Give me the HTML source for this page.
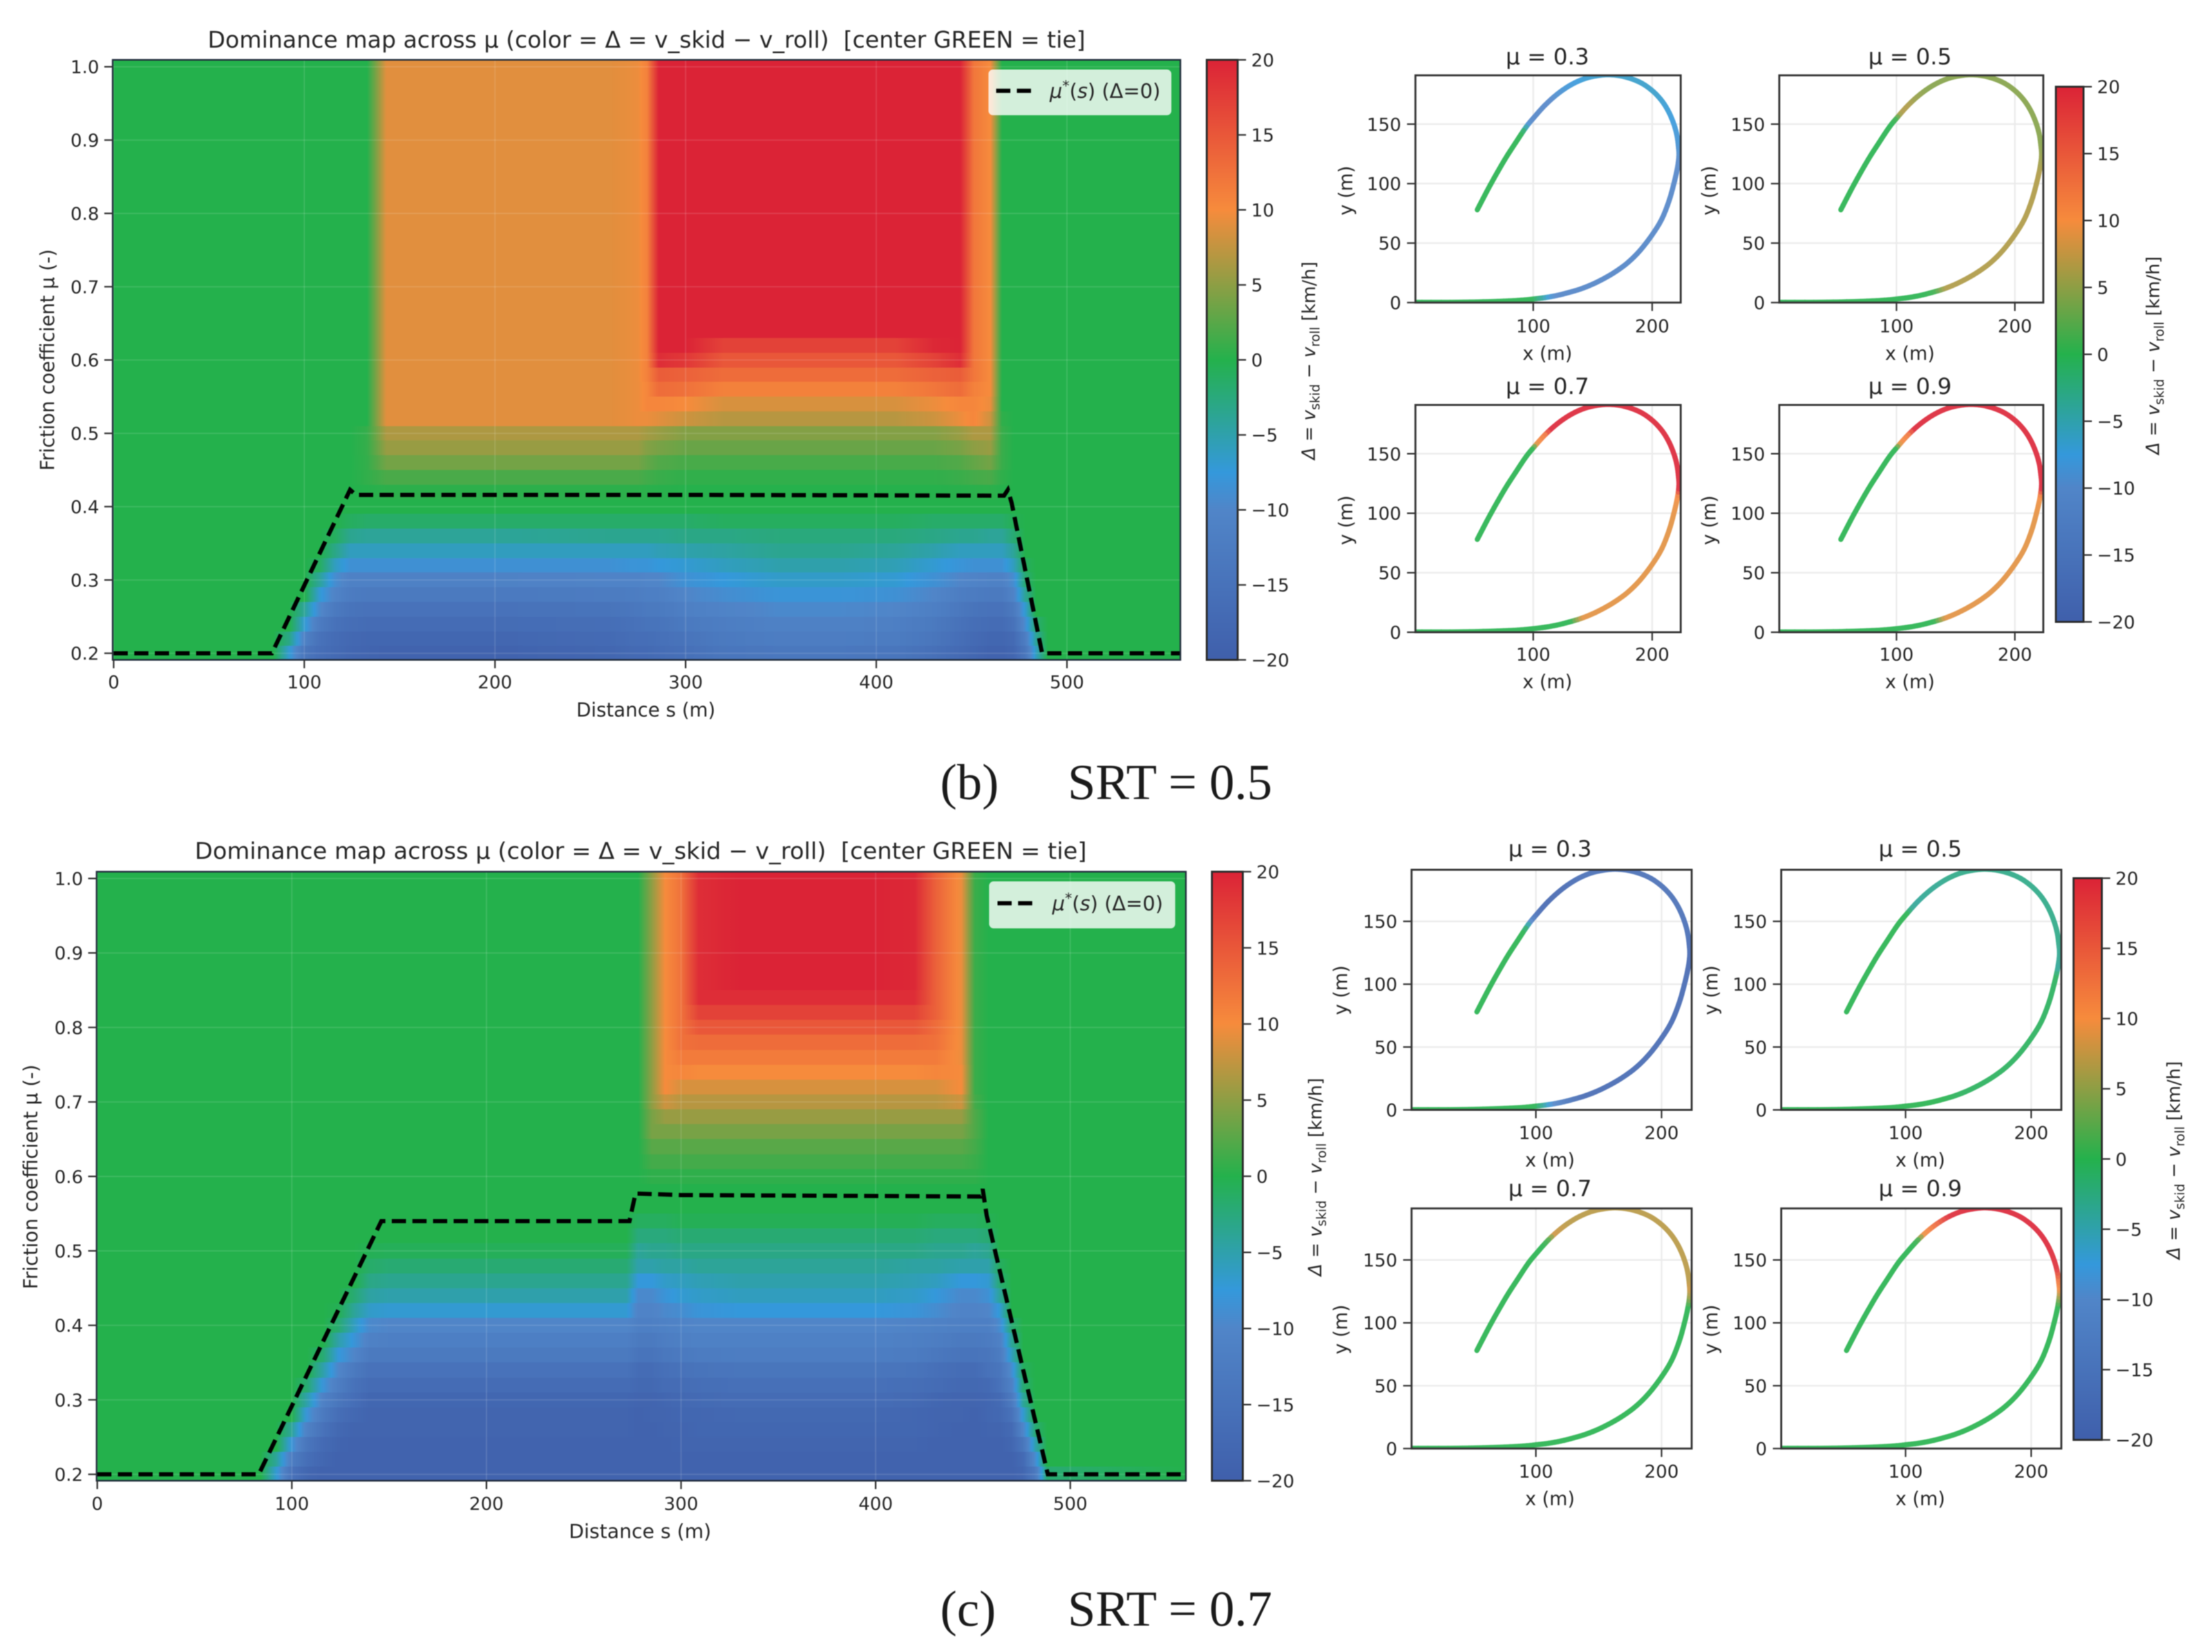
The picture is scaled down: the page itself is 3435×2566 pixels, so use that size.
<!DOCTYPE html>
<html lang="en">
<head>
<meta charset="utf-8">
<title>Dominance maps across friction coefficient</title>
<style>
html,body{margin:0;padding:0;background:#fff;}
svg{display:block;filter:blur(0.9px);}
text{font-family:"DejaVu Sans","Liberation Sans",sans-serif;fill:#262626;}
.cap{font-family:"Liberation Serif",serif;font-size:78px;fill:#1a1a1a;}
</style>
</head>
<body>
<svg id="fig" xmlns="http://www.w3.org/2000/svg" width="3435" height="2566" viewBox="0 0 3435 2566">
<rect x="0" y="0" width="3435" height="2566" fill="#ffffff"/>
<defs id="defs"></defs>
<text class="cap" x="1460" y="1241">(b)</text>
<text class="cap" x="1658" y="1241">SRT = 0.5</text>
<text class="cap" x="1460" y="2525">(c)</text>
<text class="cap" x="1658" y="2525">SRT = 0.7</text>
</svg>
<script>
/* ---------- colour scale ---------- */
const cmapDelta=[-20,-10,-7.5,0,10,20];
const cmapColors=[[63,95,171],[80,133,200],[52,152,219],[36,177,76],[246,139,60],[219,35,54]];

/* ---------- tick labels ---------- */
const sTicks=[0,100,200,300,400,500];
const muTicks=[0.2,0.3,0.4,0.5,0.6,0.7,0.8,0.9,1.0];
const cbarTicks=[-20,-15,-10,-5,0,5,10,15,20];
const trackXTicks=[100,200];
const trackYTicks=[0,50,100,150];
const panelMu=[0.3,0.5,0.7,0.9];

/* ---------- heatmap: friction levels (rows) ---------- */
const muLevels=[0.20,0.22,0.24,0.26,0.28,0.30,0.32,0.34,0.36,0.38,0.40,0.42,0.44,0.46,0.48,0.50,0.52,0.54,0.56,0.58,0.60,0.62,0.64,0.66,0.68,0.70,0.72,0.74,0.76,0.78,0.80,0.82,0.84,0.86,0.88,0.90,0.92,0.94,0.96,0.98,1.00];

/* ---------- SRT = 0.5 heatmap ---------- */
const sColsB=[0,84,92,100,108,116,124,133,143,200,260,275,280,286,300,320,350,380,410,430,444,451,460,466,472,478,484,490,560];
const rowTopB=[0,0,0,0,0,0,0,0,9,9,9,9.5,11,20,20,20,20,20,20,20,20,12,10,0,0,0,0,0,0];
const deltaB=[
[0,0,-7,-14,-16,-17,-18,-18.5,-19,-19,-18,-17,-17,-16.5,-15.5,-14,-13.5,-13.5,-14,-15.5,-17,-18,-19,-19,-18,-14,-6,0,0],
[0,0,-3,-11,-15,-16.5,-17.5,-18,-18,-18,-17,-16,-16,-15.5,-14.5,-13,-12,-12,-12.5,-14,-16,-17,-18,-18,-17,-12,-4,0,0],
[0,0,0,-7,-12.5,-15,-16,-16.5,-16.5,-16.5,-16,-15,-14.5,-14.5,-13,-12,-11,-11,-11.5,-13,-15,-16,-16.5,-16.5,-15,-9,-2,0,0],
[0,0,0,-4,-9.5,-13,-14.5,-15,-15,-15,-14.5,-13.5,-13,-13,-11.5,-10.5,-9.5,-9.5,-10,-11.5,-13.5,-14.5,-15,-15,-13,-7,0,0,0],
[0,0,0,0,-7,-10.5,-12.5,-13,-13,-13,-12.5,-12,-11.5,-11.5,-10,-9,-8,-8,-8.5,-10,-12,-12.5,-13,-13,-10.5,-4,0,0,0],
[0,0,0,0,-4,-9,-11,-11,-11,-11,-10.5,-10.5,-10,-10,-8.5,-7.5,-6.5,-6.5,-7,-8.5,-10,-10.5,-11,-11,-9,-2,0,0,0],
[0,0,0,0,-1,-6,-8.5,-8.5,-8.5,-8.5,-8.5,-8,-8,-7.5,-7,-6,-5,-5,-5.5,-7,-8,-8.5,-8.5,-8.5,-6,-1,0,0,0],
[0,0,0,0,0,-3,-6,-6,-6,-6,-6,-6,-6,-5.5,-5,-4.5,-3.5,-3.5,-4,-5,-6,-6,-6,-6,-4,0,0,0,0],
[0,0,0,0,0,-1,-3.5,-4,-4,-4,-3.5,-3.5,-3.5,-3.5,-3,-3,-2.5,-2.5,-2.5,-3,-3.5,-3.5,-4,-4,-2,0,0,0,0],
[0,0,0,0,0,0,-1,-1.5,-1.5,-1.5,-1.5,-1.5,-1.5,-1.5,-1.5,-1,-1,-1,-1,-1.5,-1.5,-1.5,-1.5,-1.5,-0.5,0,0,0,0],
[0,0,0,0,0,0,0,0,0,0,0,0,0,0,0,0,0,0,0,0,0,0,0,0,0,0,0,0,0],
[0,0,0,0,0,0,0,0.1,0.4,0.4,0.4,0.4,0.3,0.2,0.1,0.1,0.1,0.1,0.1,0.1,0.2,0.3,0.4,0.1,0,0,0,0,0],
[0,0,0,0,0,0,0,0.6,1.8,1.8,1.8,1.8,1.4,1,0.6,0.6,0.6,0.6,0.6,0.6,1,1.5,1.8,0.5,0,0,0,0,0],
[0,0,0,0,0,0,0,0.7,3.8,3.8,3.8,3.8,3,2.2,1.7,1.7,1.7,1.7,1.7,1.7,2.2,3,3.8,1,0,0,0,0,0],
[0,0,0,0,0,0,0,0.8,5.5,5.5,5.5,5.5,4.5,4,3.3,3.3,3.3,3.3,3.3,3.3,4,5,5.5,1,0,0,0,0,0],
[0,0,0,0,0,0,0,0.8,6.5,6.5,6.5,6.5,6,5.5,4.5,4.5,4.5,4.5,4.5,4.5,5.5,6.5,6.5,1,0,0,0,0,0],
[0,0,0,0,0,0,0,0,9,9,9,9.5,9.5,9,8,7,7,7,7,8,9.5,10.5,8,0.5,0,0,0,0,0],
[0,0,0,0,0,0,0,0,9,9,9,9.5,10.5,10.5,10,8.5,8.5,8.5,8.5,9.5,10.5,10.5,9.5,0,0,0,0,0,0],
[0,0,0,0,0,0,0,0,9,9,9,9.5,10.5,13,12.5,11,11,11,11,12,13,11,10,0,0,0,0,0,0],
[0,0,0,0,0,0,0,0,9,9,9,9.5,11,14.5,14,13,13,13,13,14,14.5,12,10,0,0,0,0,0,0],
[0,0,0,0,0,0,0,0,9,9,9,9.5,11,19,18,15,15,15,15,17,19,12,10,0,0,0,0,0,0],
[0,0,0,0,0,0,0,0,9,9,9,9.5,11,20,20,17,17,17,17,19.5,20,12,10,0,0,0,0,0,0],
rowTopB,rowTopB,rowTopB,rowTopB,rowTopB,rowTopB,rowTopB,rowTopB,rowTopB,rowTopB,
rowTopB,rowTopB,rowTopB,rowTopB,rowTopB,rowTopB,rowTopB,rowTopB,rowTopB
];
const muStarSB=[0,83,124,127,300,467,469,471,487,560];
const muStarValB=[0.2,0.2,0.423,0.416,0.416,0.415,0.423,0.405,0.2,0.2];

/* ---------- SRT = 0.7 heatmap ---------- */
const sColsC=[0,84,92,100,108,116,124,132,140,150,200,262,272,278,285,292,300,309,330,365,400,420,431,444,451,458,464,470,476,482,488,560];
const rowTopC=[0,0,0,0,0,0,0,0,0,0,0,0,0,0,5,10,12.5,19,20,20,20,19.5,14,9.5,1,0,0,0,0,0,0,0];
const deltaC=[
[0,0,-7,-15,-18,-19,-19,-19,-19,-19,-19,-19,-19,-19,-19,-19,-19,-19,-19,-19,-19,-19,-19,-19,-19,-19,-19,-19,-18,-13,-2,0],
[0,0,-4,-12,-16,-18,-19,-19,-19,-19,-19,-19,-19,-19,-19,-19,-19,-19,-19,-19,-19,-19,-19,-19,-19,-19,-19,-19,-17,-9,0,0],
[0,0,0,-8,-14,-17,-18.5,-19,-19,-19,-19,-19,-19,-19,-19,-19,-18.5,-18.5,-18.5,-18.5,-18.5,-18.5,-19,-19,-19,-19,-19,-18,-14,-5,0,0],
[0,0,0,-4,-11,-15,-17.5,-18.5,-18.5,-18.5,-18.5,-18.5,-18.5,-19,-19,-18.5,-18.5,-18,-18,-18,-18,-18,-18.5,-19,-19,-18.5,-18.5,-17,-10,-2,0,0],
[0,0,0,0,-8,-13,-16,-17.5,-18.5,-18.5,-18.5,-18.5,-18.5,-19,-18.5,-18.5,-18,-18,-17.5,-17.5,-17.5,-18,-18.5,-18.5,-19,-18,-17.5,-15,-7,0,0,0],
[0,0,0,0,-5,-11,-14,-16,-18,-18,-18,-18,-18,-18.5,-18.5,-18,-17.5,-17,-16.5,-16.5,-16.5,-17,-18,-18.5,-18.5,-18,-17,-13,-4,0,0,0],
[0,0,0,0,-2,-8,-12,-15,-16.5,-16.5,-16.5,-16.5,-16.5,-17.5,-17.5,-16.5,-16.5,-16,-15.5,-15.5,-15.5,-16,-16.5,-17.5,-17.5,-17,-15,-11,-2,0,0,0],
[0,0,0,0,0,-5,-10,-13,-15,-15,-15,-15,-15,-16.5,-16.5,-15.5,-15,-14.5,-14,-14,-14,-14.5,-15.5,-16.5,-16.5,-15,-14,-9,-1,0,0,0],
[0,0,0,0,0,-2,-7.5,-10,-13,-13,-13,-13,-13,-14.5,-14.5,-13.5,-13,-12.5,-12,-12,-12,-12.5,-13.5,-14.5,-14.5,-14,-12.5,-6,0,0,0,0],
[0,0,0,0,0,0,-5,-8,-11,-11.5,-11.5,-11.5,-11.5,-13,-13,-12,-11.5,-11,-11,-11,-11,-11.5,-12,-13,-13,-12.5,-11,-4,0,0,0,0],
[0,0,0,0,0,0,-2,-6,-9.5,-10,-10,-10,-10,-11.5,-11.5,-11,-10.5,-10,-10,-10,-10,-10.5,-11,-11.5,-11.5,-11.5,-9,-2,0,0,0,0],
[0,0,0,0,0,0,-0.5,-4,-6.5,-7,-7,-7,-7,-10.5,-10.5,-9.5,-9,-8,-7.5,-7.5,-7.5,-8,-9,-10.5,-10.5,-10,-7,0,0,0,0,0],
[0,0,0,0,0,0,0,-2,-4.5,-5,-5,-5,-5,-9.5,-9.5,-8,-7,-6.5,-6,-6,-6,-6.5,-7.5,-9.5,-9.5,-8.5,-4,0,0,0,0,0],
[0,0,0,0,0,0,0,0,-3,-3.5,-3.5,-3.5,-3.5,-7.5,-7.5,-6.5,-6,-5.5,-5,-5,-5,-5.5,-6,-7.5,-7.5,-7,-2,0,0,0,0,0],
[0,0,0,0,0,0,0,0,-1.5,-2,-2,-2,-2,-5,-5,-4.5,-4.5,-4,-4,-4,-4,-4.5,-4.5,-5,-5,-5,-1,0,0,0,0,0],
[0,0,0,0,0,0,0,0,-0.5,-0.7,-0.7,-0.7,-0.7,-4,-3.5,-3.5,-3,-3,-3,-3,-3,-3,-3.5,-3.5,-4,-3.5,0,0,0,0,0,0],
[0,0,0,0,0,0,0,0,0,0,0,0,0,-2.5,-2.5,-2.5,-2,-2,-2,-2,-2,-2,-2.5,-2.5,-2.5,-2,0,0,0,0,0,0],
[0,0,0,0,0,0,0,0,0,0,0,0,0,-1,-1,-1,-0.5,-0.5,-0.5,-0.5,-0.5,-0.5,-1,-1,-1,-0.5,0,0,0,0,0,0],
[0,0,0,0,0,0,0,0,0,0,0,0,0,0,0,0,0,0,0,0,0,0,0,0,0,0,0,0,0,0,0,0],
[0,0,0,0,0,0,0,0,0,0,0,0,0,0,0,0,0,0,0,0,0,0,0,0,0,0,0,0,0,0,0,0],
[0,0,0,0,0,0,0,0,0,0,0,0,0,0,0.5,0.5,0.5,0.5,0.5,0.5,0.5,0.5,0.5,0.5,0.5,0,0,0,0,0,0,0],
[0,0,0,0,0,0,0,0,0,0,0,0,0,0,1.5,1.5,1.5,1.5,1.5,1.5,1.5,1.5,1.5,1.5,1,0,0,0,0,0,0,0],
[0,0,0,0,0,0,0,0,0,0,0,0,0,0,2.5,2.5,2.5,2.5,2.5,2.5,2.5,2.5,2.5,2.5,1.5,0,0,0,0,0,0,0],
[0,0,0,0,0,0,0,0,0,0,0,0,0,0,4,4,4,4,4,4,4,4,4,4,2,0,0,0,0,0,0,0],
[0,0,0,0,0,0,0,0,0,0,0,0,0,0,4,5.5,5.5,5.5,5.5,5.5,5.5,5.5,5.5,5.5,2,0,0,0,0,0,0,0],
[0,0,0,0,0,0,0,0,0,0,0,0,0,0,5,8,7,7,7,7,7,7,7,8,1.5,0,0,0,0,0,0,0],
[0,0,0,0,0,0,0,0,0,0,0,0,0,0,5,10,8.5,8.5,8.5,8.5,8.5,8.5,8.5,10,1,0,0,0,0,0,0,0],
[0,0,0,0,0,0,0,0,0,0,0,0,0,0,5,10,10.5,10,10,10,10,10,10.5,10,1,0,0,0,0,0,0,0],
[0,0,0,0,0,0,0,0,0,0,0,0,0,0,5,10,11.5,11.5,11.5,11.5,11.5,11.5,11.5,9.5,1,0,0,0,0,0,0,0],
[0,0,0,0,0,0,0,0,0,0,0,0,0,0,5,10,12.5,13,13,13,13,13,12.5,9.5,1,0,0,0,0,0,0,0],
[0,0,0,0,0,0,0,0,0,0,0,0,0,0,5,10,12.5,15,15,15,15,15,13,9.5,1,0,0,0,0,0,0,0],
[0,0,0,0,0,0,0,0,0,0,0,0,0,0,5,10,12.5,17,17,17,17,17,14,9.5,1,0,0,0,0,0,0,0],
[0,0,0,0,0,0,0,0,0,0,0,0,0,0,5,10,12.5,19,19,19,19,19,14,9.5,1,0,0,0,0,0,0,0],
rowTopC,rowTopC,rowTopC,rowTopC,rowTopC,rowTopC,rowTopC,rowTopC
];
const muStarSC=[0,83,146,273.5,276.6,300,454,455,457,488.5,560];
const muStarValC=[0.2,0.2,0.54,0.54,0.577,0.575,0.573,0.583,0.548,0.2,0.2];

/* ---------- track centre line (x, y in metres, in driving order) ---------- */
const trackX=[1,30,52,75,90,100,110,120,130,140,150,160,170,180,190,200,208,214,218,221,222.5,222,220.5,217.5,213,207,199,189,176,163,150,140,130,120,110,101,94,85,76,64,53];
const trackY=[0.2,0.2,0.5,1.2,2,3,4.2,6,8.5,11.5,15.5,20.5,26.5,34,44,57,70,85,99,112,123,132,142,152,162,171,179,185.5,190,191.5,190,187,182,175,166,156,147.5,134,120,99,78];

/* ---------- helpers ---------- */
const NS='http://www.w3.org/2000/svg';
const svg=document.getElementById('fig');
const defs=document.getElementById('defs');
function linear(d0,d1,r0,r1){return v=>r0+(v-d0)/(d1-d0)*(r1-r0);}
function make(tag,attrs,parent){
  const e=document.createElementNS(NS,tag);
  for(const k in attrs)e.setAttribute(k,attrs[k]);
  (parent||svg).appendChild(e);
  return e;
}
function deltaRGB(v){
  v=Math.max(-20,Math.min(20,v));
  let i=0;
  while(i<cmapDelta.length-2&&v>cmapDelta[i+1])i++;
  const t=(v-cmapDelta[i])/(cmapDelta[i+1]-cmapDelta[i]);
  const a=cmapColors[i],b=cmapColors[i+1];
  return [0,1,2].map(k=>Math.round(a[k]+(b[k]-a[k])*t));
}
function deltaColor(v){const c=deltaRGB(v);return 'rgb('+c[0]+','+c[1]+','+c[2]+')';}
function label(parent,str,x,y,size,anchor,name,rot,len){
  const t=make('text',{x:x,y:y,'font-size':size,'text-anchor':anchor},parent);
  t.textContent=str;
  if(rot)t.setAttribute('transform','rotate(-90 '+x+' '+y+')');
  if(len){t.setAttribute('textLength',len);t.setAttribute('lengthAdjust','spacingAndGlyphs');}
  
  
  return t;
}
function tick(parent,x1,y1,x2,y2,name){
  const l=make('line',{x1:x1,y1:y1,x2:x2,y2:y2,stroke:'#333','stroke-width':2.4},parent);
  
  
}
function fmtTick(v){return v<0?'\u2212'+Math.abs(v):String(v);}

const gradCache={};
function cellGradient(a,b){
  const key='g'+String(a).replace('-','m').replace('.','p')+'_'+String(b).replace('-','m').replace('.','p');
  if(gradCache[key])return key;
  gradCache[key]=true;
  const g=make('linearGradient',{id:key,x1:0,y1:0,x2:1,y2:0},defs);
  for(let i=0;i<=6;i++){
    make('stop',{offset:i/6,'stop-color':deltaColor(a+(b-a)*i/6)},g);
  }
  return key;
}

/* vertical gradient for the colour bars */
(function(){
  const g=make('linearGradient',{id:'cbarGrad',x1:0,y1:1,x2:0,y2:0},defs);
  for(let i=0;i<cmapDelta.length;i++){
    make('stop',{offset:(cmapDelta[i]+20)/40,'stop-color':deltaColor(cmapDelta[i])},g);
  }
})();

function colorbar(box,labelX,labelY,idx){
  const g=make('g',{},svg);
  
  
  const bar=make('rect',{x:box.l,y:box.t,width:box.r-box.l,height:box.b-box.t,fill:'url(#cbarGrad)',stroke:'#2a2a2a','stroke-width':3},g);
  
  
  const yD=linear(-20,20,box.b,box.t);
  cbarTicks.forEach(v=>{
    const y=yD(v);
    tick(g,box.r,y,box.r+13,y,'colorbar-tick');
    label(g,fmtTick(v),box.r+21,y+10,28,'start','colorbar-tick-label');
  });
  const t=make('text',{x:labelX,y:labelY,'font-size':28,'text-anchor':'middle',transform:'rotate(-90 '+labelX+' '+labelY+')'},g);
  
  
  const parts=[['\u0394','i',0],[' = ','',0],['v','i',0],['skid','s',7],[' \u2212 ','',-7],['v','i',0],['roll','s',7],[' [km/h]','',-7]];
  parts.forEach(p=>{
    const s=make('tspan',{},t);
    s.textContent=p[0];
    if(p[1]==='i')s.setAttribute('font-style','italic');
    if(p[1]==='s')s.setAttribute('font-size','20');
    if(p[2])s.setAttribute('dy',p[2]);
  });
}

let clipId=0;
function heatmapPanel(p){
  const xS=p.xS,yM=p.yM,box=p.box;
  const root=make('g',{},svg);
  
  
  const cid='clip'+(clipId++);
  const cp=make('clipPath',{id:cid},defs);
  make('rect',{x:box.l,y:box.t,width:box.r-box.l,height:box.b-box.t},cp);
  const cells=make('g',{'clip-path':'url(#'+cid+')','shape-rendering':'crispEdges'},root);
  
  
  p.rows.forEach((row,r)=>{
    const y0=Math.round(yM(muLevels[r]+0.01)),y1=Math.round(yM(muLevels[r]-0.01));
    for(let c=0;c<p.cols.length-1;c++){
      const x0=Math.round(xS(p.cols[c])),x1=Math.round(xS(p.cols[c+1]));
      const a=row[c],b=row[c+1];
      const cell=make('rect',{x:x0,y:y0,width:x1-x0,height:y1-y0,fill:a===b?deltaColor(a):'url(#'+cellGradient(a,b)+')'},cells);
      
      
    }
  });
  /* grid */
  const grid=make('g',{'clip-path':'url(#'+cid+')',stroke:'#ffffff','stroke-opacity':0.12,'stroke-width':2},root);
  
  
  sTicks.forEach(v=>{make('line',{x1:xS(v),x2:xS(v),y1:box.t,y2:box.b},grid);});
  muTicks.forEach(v=>{make('line',{x1:box.l,x2:box.r,y1:yM(v),y2:yM(v)},grid);});
  /* threshold line */
  const pts=p.starS.map((s,i)=>xS(s).toFixed(1)+','+yM(p.starMu[i]).toFixed(1)).join(' ');
  const dash=make('polyline',{points:pts,fill:'none',stroke:'#000','stroke-width':6.5,'stroke-dasharray':'22 10','clip-path':'url(#'+cid+')'},root);
  
  
  /* frame */
  const frame=make('rect',{x:box.l,y:box.t,width:box.r-box.l,height:box.b-box.t,fill:'none',stroke:'#1f2a3a','stroke-width':2.5},root);
  
  
  /* ticks */
  sTicks.forEach(v=>{
    tick(root,xS(v),box.b,xS(v),box.b+13,'x-tick');
    label(root,String(v),xS(v),p.xTickY+10,28,'middle','x-tick-label');
  });
  muTicks.forEach(v=>{
    tick(root,box.l-13,yM(v),box.l,yM(v),'y-tick');
    label(root,v.toFixed(1),box.l-21,yM(v)+10,28,'end','y-tick-label');
  });
  label(root,'Dominance map across \u03bc (color = \u0394 = v_skid \u2212 v_roll)\u00a0\u00a0[center GREEN = tie]',p.titleX,p.titleY+13,36,'middle','chart-title',false,p.titleLen);
  label(root,'Distance s (m)',p.xlabX,p.xlabY+11,30,'middle','x-axis-title',false,p.xlabLen);
  label(root,'Friction coefficient \u03bc (-)',p.ylabX+10,p.ylabY,30,'middle','y-axis-title',true,p.ylabLen);
  /* legend */
  const lg=make('g',{},root);
  
  
  const lb=make('rect',{x:p.leg.l,y:p.leg.t,width:p.leg.r-p.leg.l,height:p.leg.b-p.leg.t,rx:7,fill:'#ffffff','fill-opacity':0.8},lg);
  
  
  const ll=make('line',{x1:p.leg.x1,x2:p.leg.x2,y1:p.leg.y,y2:p.leg.y,stroke:'#000','stroke-width':6.5,'stroke-dasharray':'22 10'},lg);
  
  
  const lt=make('text',{x:p.leg.tx,y:p.leg.y+11,'font-size':31},lg);
  
  
  [['\u03bc','i',0,31],['*','',-11,22],['(','',11,31],['s','i',0,31],[') (\u0394=0)','',0,31]].forEach(q=>{
    const s=make('tspan',{'font-size':q[3]},lt);
    s.textContent=q[0];
    if(q[1])s.setAttribute('font-style','italic');
    if(q[2])s.setAttribute('dy',q[2]);
  });
}

/* smooth position along the read track points */
function spline(arr,i,t){
  const p0=arr[Math.max(i-1,0)],p1=arr[i],p2=arr[i+1],p3=arr[Math.min(i+2,arr.length-1)];
  const t2=t*t,t3=t2*t;
  return 0.5*(2*p1+(p2-p0)*t+(2*p0-5*p1+4*p2-p3)*t2+(3*p1-p0-3*p2+p3)*t3);
}
function trackArc(){
  const a=[0];
  for(let i=1;i<trackX.length;i++){
    a.push(a[i-1]+Math.hypot(trackX[i]-trackX[i-1],trackY[i]-trackY[i-1]));
  }
  return a;
}
function sampleDelta(cols,rows,muVal,s){
  const r=muLevels.findIndex(m=>Math.abs(m-muVal)<0.001);
  const row=rows[r];
  if(s<=cols[0])return row[0];
  for(let c=0;c<cols.length-1;c++){
    if(s<=cols[c+1])return row[c]+(row[c+1]-row[c])*(s-cols[c])/(cols[c+1]-cols[c]);
  }
  return row[row.length-1];
}
function trackPanel(q){
  const box=q.box;
  const xT=linear(1,224,box.l,box.r),yT=linear(0,191,box.b,box.t);
  const g=make('g',{},svg);
  
  
  const cid='clip'+(clipId++);
  const cp=make('clipPath',{id:cid},defs);
  make('rect',{x:box.l,y:box.t,width:box.r-box.l,height:box.b-box.t},cp);
  const grid=make('g',{stroke:'#ebebeb','stroke-width':2.5},g);
  
  
  trackXTicks.forEach(v=>{make('line',{x1:xT(v),x2:xT(v),y1:box.t,y2:box.b},grid);});
  trackYTicks.forEach(v=>{make('line',{x1:box.l,x2:box.r,y1:yT(v),y2:yT(v)},grid);});
  const line=make('g',{'clip-path':'url(#'+cid+')',fill:'none','stroke-width':8,'stroke-linecap':'round'},g);
  
  
  const arc=trackArc();
  const sub=4;
  for(let i=0;i<trackX.length-1;i++){
    for(let k=0;k<sub;k++){
      const t0=k/sub,t1=(k+1)/sub;
      const sMid=arc[i]+(arc[i+1]-arc[i])*(t0+t1)/2;
      const rgb=deltaRGB(sampleDelta(q.cols,q.rows,q.mu,sMid)).map(c=>Math.round(c+(255-c)*0.1));
      const seg=make('line',{
        x1:xT(spline(trackX,i,t0)).toFixed(2),
        y1:yT(spline(trackY,i,t0)).toFixed(2),
        x2:xT(spline(trackX,i,t1)).toFixed(2),
        y2:yT(spline(trackY,i,t1)).toFixed(2),
        stroke:'rgb('+rgb.join(',')+')'
      },line);
      
      
    }
  }
  const frame=make('rect',{x:box.l,y:box.t,width:box.r-box.l,height:box.b-box.t,fill:'none',stroke:'#333','stroke-width':3},g);
  
  
  trackXTicks.forEach(v=>{
    tick(g,xT(v),box.b,xT(v),box.b+13,'track-x-tick');
    label(g,String(v),xT(v),q.xTickY+10,28,'middle','track-x-tick-label');
  });
  trackYTicks.forEach(v=>{
    tick(g,box.l-13,yT(v),box.l,yT(v),'track-y-tick');
    label(g,String(v),box.l-22,yT(v)+10,28,'end','track-y-tick-label');
  });
  label(g,'\u03bc = '+q.mu,q.titleX,q.titleY+12,35,'middle','track-panel-title');
  label(g,'x (m)',q.titleX,q.xlabY+10,29,'middle','track-x-axis-title');
  label(g,'y (m)',q.ylabX+10,q.ylabY,29,'middle','track-y-axis-title',true);
}

/* ---------- panel (b) ---------- */
heatmapPanel({id:'b',cols:sColsB,rows:deltaB,starS:muStarSB,starMu:muStarValB,
  box:{l:175,r:1833,t:93,b:1025},
  xS:linear(-0.5,559.5,175,1833),yM:linear(0.2,1,1014.7,103.7),
  xTickY:1059,titleX:1004,titleY:61,titleLen:1363,xlabX:1003,xlabY:1102,xlabLen:216,ylabX:74,ylabY:559,ylabLen:344,
  leg:{l:1535,r:1819,t:108,b:179,x1:1547,x2:1602,y:141,tx:1630}});
colorbar({l:1874,r:1922,t:93,b:1025},2042,560,'b-left');

/* ---------- panel (c) ---------- */
heatmapPanel({id:'c',cols:sColsC,rows:deltaC,starS:muStarSC,starMu:muStarValC,
  box:{l:150,r:1841.5,t:1354,b:2300},
  xS:linear(0,500,151,1662),yM:linear(0.2,1,2290,1364.5),
  xTickY:2335,titleX:995,titleY:1321,titleLen:1385,xlabX:994,xlabY:2378,xlabLen:221,ylabX:48,ylabY:1828,ylabLen:349,
  leg:{l:1536,r:1825,t:1369,b:1442,x1:1549,x2:1606,y:1403,tx:1634}});
colorbar({l:1882,r:1930,t:1354,b:2300},2052,1828,'c-left');

/* ---------- track panels (b) ---------- */
[[0,2198,2610,117,470,2403,88,506,549,2090,296],
 [1,2763,3173,117,470,2966,88,506,549,2654,296],
 [2,2198,2610,629,982,2403,600,1016,1059,2090,808],
 [3,2763,3173,629,982,2966,600,1016,1059,2654,808]].forEach(a=>{
  trackPanel({id:'b',mu:panelMu[a[0]],cols:sColsB,rows:deltaB,box:{l:a[1],r:a[2],t:a[3],b:a[4]},
    titleX:a[5],titleY:a[6],xTickY:a[7],xlabY:a[8],ylabX:a[9],ylabY:a[10]});
});
colorbar({l:3192.5,r:3235.5,t:134.7,b:966},3353,552,'b-right');

/* ---------- track panels (c) ---------- */
[[0,2192,2627,1351,1724,2407,1318.5,1759,1802,2082,1538],
 [1,2766,3201,1351,1724,2982,1318.5,1759,1802,2657,1538],
 [2,2192,2627,1877,2250,2407,1846,2285,2328,2082,2065],
 [3,2766,3201,1877,2250,2982,1846,2285,2328,2657,2065]].forEach(a=>{
  trackPanel({id:'c',mu:panelMu[a[0]],cols:sColsC,rows:deltaC,box:{l:a[1],r:a[2],t:a[3],b:a[4]},
    titleX:a[5],titleY:a[6],xTickY:a[7],xlabY:a[8],ylabX:a[9],ylabY:a[10]});
});
colorbar({l:3220,r:3264,t:1364,b:2236.5},3385,1802,'c-right');
</script>
</body>
</html>
